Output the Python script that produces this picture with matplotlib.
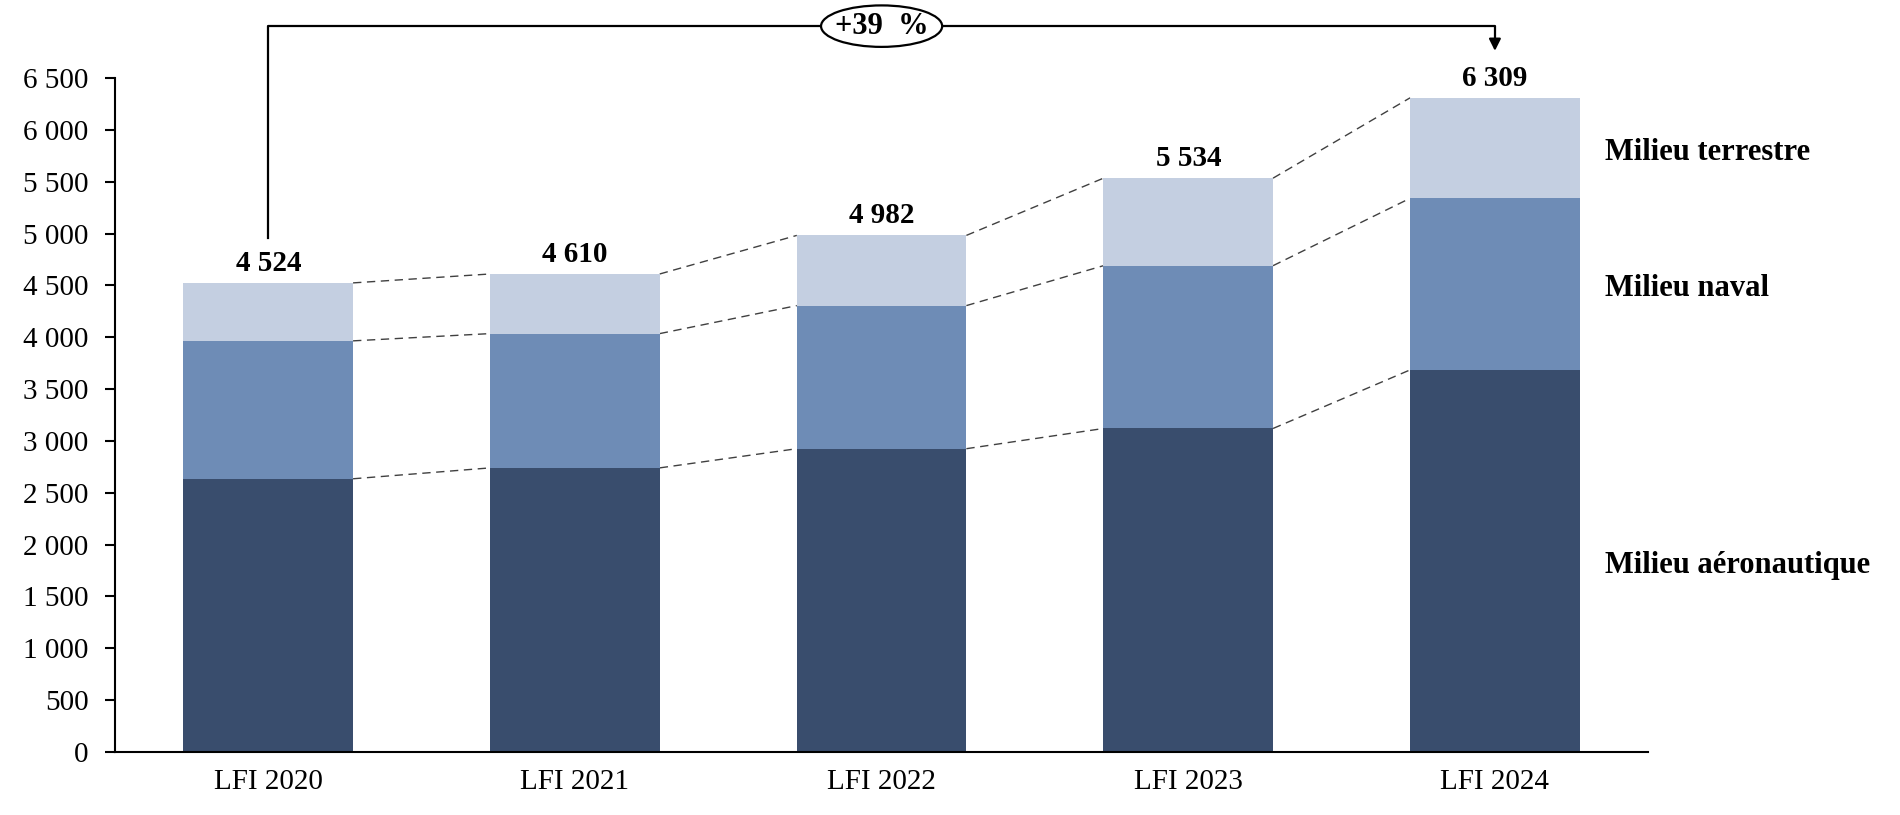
import matplotlib.pyplot as plt
import numpy as np
from matplotlib.ticker import FuncFormatter
from matplotlib.patches import Ellipse

plt.rcParams['font.family'] = ['Liberation Serif', 'DejaVu Serif']

categories = ['LFI 2020', 'LFI 2021', 'LFI 2022', 'LFI 2023', 'LFI 2024']
aero = [2635, 2740, 2925, 3120, 3685]
naval = [1330, 1295, 1380, 1570, 1655]
terrestre = [559, 575, 677, 844, 969]
totals = [4524, 4610, 4982, 5534, 6309]
series_names = ['Milieu aéronautique', 'Milieu naval', 'Milieu terrestre']
growth_label = '+39  %'

colors = ['#394D6D', '#6E8CB6', '#C4CFE1']
width = 0.553

fig = plt.figure(figsize=(19, 8.15), dpi=100, facecolor='white')
ax = fig.add_axes([0.0605, 0.0773, 0.807, 0.827])

x = np.arange(len(categories))
layers = [np.array(aero), np.array(naval), np.array(terrestre)]
bottom = np.zeros(len(categories))
tops = []
for vals, col in zip(layers, colors):
    ax.bar(x, vals, width, bottom=bottom, color=col, zorder=2)
    bottom = bottom + vals
    tops.append(bottom.copy())

# pointillés entre les barres
for lvl in tops:
    for i in range(len(x) - 1):
        ax.plot([x[i] + width / 2, x[i + 1] - width / 2], [lvl[i], lvl[i + 1]],
                color='#404040', linestyle=(0, (6, 4)), linewidth=1.0, zorder=1)

# totaux
for i, t in enumerate(totals):
    ax.annotate(f'{t:,}'.replace(',', ' '), (x[i], t), xytext=(0, 14),
                textcoords='offset points', ha='center', va='center',
                fontsize=21, fontweight='bold')

# noms des séries à droite
starts = [0] + [t[-1] for t in tops[:-1]]
for name, s, t in zip(series_names, starts, tops):
    ax.annotate(name, (x[-1] + width / 2, (s + t[-1]) / 2), xytext=(18, -3),
                textcoords='offset points', ha='left', va='center',
                fontsize=22, fontweight='bold', annotation_clip=False)

# accolade +39 %
y_top = 7000
ax.plot([x[0], x[0], x[-1], x[-1]], [4960, y_top, y_top, 6840],
        color='black', linewidth=1.6, clip_on=False, zorder=3)
ax.annotate('', xy=(x[-1], 6735), xytext=(x[-1], 6870),
            arrowprops=dict(arrowstyle='-|>,head_length=0.7,head_width=0.35',
                            color='black', lw=1.6),
            annotation_clip=False)
ell = Ellipse((x[2], y_top), width=0.395, height=400, facecolor='white',
              edgecolor='black', linewidth=1.6, clip_on=False, zorder=4)
ax.add_patch(ell)
ax.text(x[2], y_top, growth_label, ha='center', va='center', fontsize=22,
        fontweight='bold', zorder=5)

ax.set_xlim(-0.5, 4.5)
ax.set_ylim(0, 6500)
ax.set_xticks(x)
ax.set_xticklabels(categories, fontsize=21)
ax.set_yticks(np.arange(0, 6501, 500))
ax.yaxis.set_major_formatter(FuncFormatter(lambda v, p: f'{int(v):,}'.replace(',', ' ')))
ax.tick_params(axis='y', length=7, width=1.5, labelsize=21, pad=12)
ax.tick_params(axis='x', length=0, pad=12)
for s in ['top', 'right']:
    ax.spines[s].set_visible(False)
for s in ['left', 'bottom']:
    ax.spines[s].set_linewidth(1.5)

fig.savefig('out.png', dpi=100, facecolor='white')
